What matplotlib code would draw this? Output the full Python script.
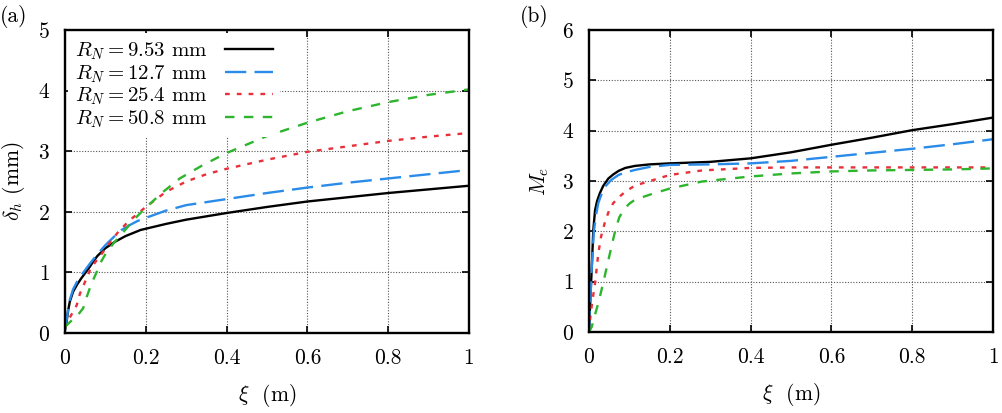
import numpy as np
import matplotlib
matplotlib.use('Agg')
import matplotlib.pyplot as plt

plt.rcParams['font.family'] = 'serif'
plt.rcParams['font.serif'] = ['cmr10', 'DejaVu Serif']
plt.rcParams['mathtext.fontset'] = 'cm'
plt.rcParams['axes.unicode_minus'] = False
plt.rcParams['axes.formatter.use_mathtext'] = True

labels = ['$R_N = 9.53$ mm', '$R_N = 12.7$ mm', '$R_N = 25.4$ mm', '$R_N = 50.8$ mm']

# (a) shock standoff delta_h (mm) vs xi (m)
xa_953 = [0, 0.004, 0.008, 0.012, 0.02, 0.03, 0.04, 0.05, 0.06, 0.07, 0.08, 0.1, 0.125, 0.15, 0.187, 0.25, 0.3, 0.4, 0.5, 0.6, 0.7, 0.8, 0.9, 1.0]
ya_953 = [0.05, 0.19, 0.38, 0.52, 0.68, 0.80, 0.90, 0.99, 1.08, 1.18, 1.27, 1.40, 1.51, 1.60, 1.70, 1.80, 1.87, 1.98, 2.08, 2.17, 2.24, 2.31, 2.37, 2.43]
xa_127 = [0, 0.004, 0.008, 0.012, 0.02, 0.03, 0.04, 0.05, 0.06, 0.08, 0.1, 0.12, 0.14, 0.16, 0.18, 0.2, 0.25, 0.3, 0.4, 0.5, 0.6, 0.7, 0.8, 0.9, 1.0]
ya_127 = [0.05, 0.22, 0.40, 0.55, 0.72, 0.85, 0.95, 1.04, 1.13, 1.30, 1.45, 1.58, 1.70, 1.78, 1.85, 1.90, 2.02, 2.11, 2.21, 2.31, 2.40, 2.48, 2.55, 2.62, 2.69]
xa_254 = [0, 0.008, 0.02, 0.029, 0.037, 0.05, 0.062, 0.075, 0.087, 0.11, 0.132, 0.16, 0.2, 0.25, 0.3, 0.35, 0.4, 0.5, 0.6, 0.7, 0.8, 0.9, 1.0]
ya_254 = [0.08, 0.21, 0.35, 0.46, 0.65, 0.85, 1.04, 1.17, 1.27, 1.48, 1.67, 1.86, 2.08, 2.33, 2.50, 2.62, 2.71, 2.86, 2.99, 3.08, 3.17, 3.24, 3.30]
xa_508 = [0, 0.012, 0.03, 0.045, 0.054, 0.062, 0.07, 0.078, 0.087, 0.1, 0.12, 0.14, 0.169, 0.2, 0.243, 0.284, 0.341, 0.4, 0.5, 0.6, 0.7, 0.8, 0.9, 1.0]
ya_508 = [0.1, 0.18, 0.28, 0.41, 0.6, 0.75, 0.88, 1.0, 1.15, 1.3, 1.48, 1.63, 1.86, 2.07, 2.33, 2.55, 2.77, 2.97, 3.25, 3.47, 3.66, 3.81, 3.93, 4.02]

# (b) M_e vs xi (m)
xb_953 = [0, 0.0025, 0.0066, 0.0107, 0.015, 0.02, 0.027, 0.035, 0.048, 0.06, 0.073, 0.09, 0.114, 0.15, 0.2, 0.3, 0.4, 0.5, 0.6, 0.7, 0.8, 0.9, 1.0]
yb_953 = [0, 0.5, 1.23, 2.03, 2.42, 2.6, 2.76, 2.9, 3.05, 3.13, 3.20, 3.26, 3.30, 3.33, 3.35, 3.38, 3.45, 3.57, 3.72, 3.86, 4.01, 4.13, 4.26]
xb_127 = [0, 0.003, 0.007, 0.012, 0.018, 0.023, 0.03, 0.04, 0.055, 0.073, 0.09, 0.114, 0.15, 0.2, 0.3, 0.4, 0.5, 0.6, 0.7, 0.8, 0.9, 1.0]
yb_127 = [0, 0.6, 1.3, 2.0, 2.35, 2.56, 2.72, 2.89, 3.02, 3.12, 3.17, 3.22, 3.28, 3.32, 3.33, 3.35, 3.40, 3.48, 3.56, 3.64, 3.73, 3.83]
xb_254 = [0, 0.0025, 0.008, 0.015, 0.023, 0.03, 0.04, 0.05, 0.06, 0.073, 0.09, 0.114, 0.147, 0.2, 0.28, 0.4, 0.5, 0.6, 0.7, 0.8, 0.9, 1.0]
yb_254 = [0, 0.24, 0.6, 0.97, 1.56, 1.90, 2.20, 2.42, 2.56, 2.67, 2.79, 2.91, 2.99, 3.12, 3.21, 3.26, 3.27, 3.27, 3.27, 3.27, 3.27, 3.27]
xb_508 = [0, 0.0066, 0.015, 0.023, 0.035, 0.048, 0.058, 0.066, 0.075, 0.088, 0.1, 0.114, 0.155, 0.2, 0.28, 0.4, 0.5, 0.6, 0.7, 0.8, 0.9, 1.0]
yb_508 = [0, 0.1, 0.35, 0.57, 0.97, 1.43, 1.78, 2.05, 2.28, 2.45, 2.55, 2.63, 2.74, 2.85, 2.99, 3.09, 3.15, 3.19, 3.21, 3.22, 3.23, 3.25]

colors = ['black', '#2a8be8', '#e8303a', '#2db52d']
dashes = [None, (9, 3.5), (2, 3), (4, 4)]
lw = 1.7
fs = 15.5

fig = plt.figure(figsize=(10.03, 4.13), dpi=100)
ax1 = fig.add_axes([65/1003, 80/413, 404/1003, 303/413])
ax2 = fig.add_axes([589/1003, 81/413, 404/1003, 302/413])

def draw(ax, xs, ys):
    for x, y, c, d, lab in zip(xs, ys, colors, dashes, labels):
        ln, = ax.plot(x, y, color=c, lw=lw, label=lab)
        if d is not None:
            ln.set_dashes(d)
    ax.set_xlim(0, 1)
    ax.grid(True, color='#555555', ls=(0, (1, 1.5)), lw=0.8)
    ax.tick_params(direction='in', top=True, right=True, length=5, width=1.2,
                   labelsize=fs)
    ax.tick_params(axis='x', pad=11)
    ax.tick_params(axis='y', pad=11)
    for s in ax.spines.values():
        s.set_linewidth(1.7)
    ax.set_xticks([0, 0.2, 0.4, 0.6, 0.8, 1])
    ax.set_xticklabels(['0', '0.2', '0.4', '0.6', '0.8', '1'])
    ax.set_xlabel(r'$\xi$  (m)', fontsize=fs, labelpad=10)

draw(ax1, [xa_953, xa_127, xa_254, xa_508], [ya_953, ya_127, ya_254, ya_508])
ax1.set_ylim(0, 5)
ax1.set_ylabel(r'$\delta_h$ (mm)', fontsize=fs, labelpad=8)
leg = ax1.legend(loc='upper left', markerfirst=False, fontsize=15, frameon=True,
                 fancybox=False, edgecolor='none', facecolor='white', framealpha=1,
                 handlelength=2.3, handletextpad=0.8, labelspacing=0.05,
                 borderpad=0.35, borderaxespad=0.15)
leg.set_zorder(5)

draw(ax2, [xb_953, xb_127, xb_254, xb_508], [yb_953, yb_127, yb_254, yb_508])
ax2.set_ylim(0, 6)
ax2.set_ylabel(r'$M_e$', fontsize=fs, labelpad=8)

fig.text(0.0, 0.961, '(a)', fontsize=fs, va='center', ha='left')
fig.text(0.518, 0.961, '(b)', fontsize=fs, va='center', ha='left')

fig.savefig('out.png', dpi=100)
